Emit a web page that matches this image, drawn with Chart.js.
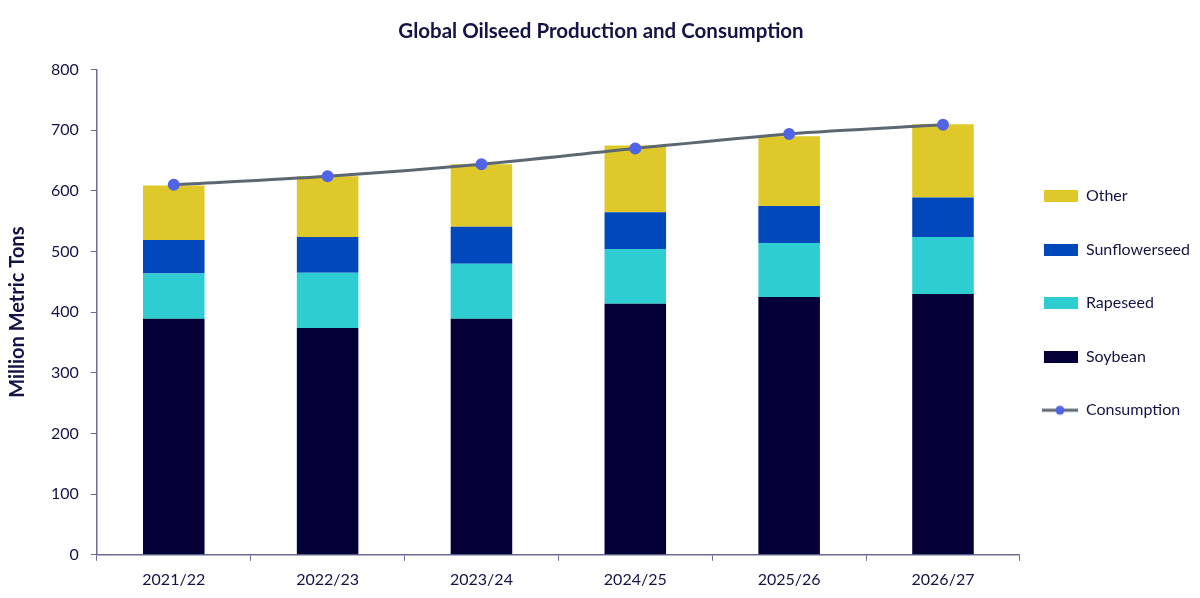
<!DOCTYPE html>
<html>
<head>
<meta charset="utf-8">
<script src="https://cdn.jsdelivr.net/npm/chart.js@4"></script>
<style>
  html, body { margin: 0; padding: 0; background: #fff; }
  #wrap { width: 1200px; height: 598px; position: relative; }
</style>
</head>
<body>
<div id="wrap"><canvas id="chart"></canvas></div>
<script>
// ── Global oilseed production (stacked) vs consumption (line) ────────────
const years       = ['2021/22', '2022/23', '2023/24', '2024/25', '2025/26', '2026/27'];
const soybean     = [389, 374, 389, 414, 425, 430];
const rapeseed    = [75, 91, 91, 90, 89, 94];
const sunflower   = [55, 59, 61, 61, 61, 65];
const other       = [90, 100, 103, 110, 115, 121];
const consumption = [610, 624, 644, 670, 694, 709];
const legendOrder = ['Other', 'Sunflowerseed', 'Rapeseed', 'Soybean', 'Consumption'];

const NAVY = '#141345';
const AXIS = '#6e6a96';
const FONT = 'Lato, "Open Sans", sans-serif';
const LINE_COL = '#5d6771';
const DOT_COL = '#5264e6';

// Legend rows are taller than the font (array text -> lineHeight drives row height).
// Swatches go into the right part of a wider canvas so the text sits close to them.
const ROW_H = 35.5, ICON_W = 40;
function boxIcon(color) {
  const c = document.createElement('canvas');
  c.width = ICON_W; c.height = 12;
  const g = c.getContext('2d');
  g.fillStyle = color; g.fillRect(ICON_W - 34, 0, 34, 12);
  return c;
}
function lineIcon() {
  const c = document.createElement('canvas');
  c.width = ICON_W; c.height = 12;
  const g = c.getContext('2d');
  g.strokeStyle = LINE_COL; g.lineWidth = 3;
  g.beginPath(); g.moveTo(ICON_W - 36, 6); g.lineTo(ICON_W, 6); g.stroke();
  g.fillStyle = DOT_COL;
  g.beginPath(); g.arc(ICON_W - 18, 6, 4.5, 0, Math.PI * 2); g.fill();
  return c;
}

const icons = {};
const bar = (label, data, color) => {
  icons[label] = boxIcon(color);
  return {
    type: 'bar', label, data,
    backgroundColor: color, borderWidth: 0,
    barPercentage: 0.4, categoryPercentage: 1,
    stack: 'prod', order: 1,
  };
};
icons['Consumption'] = lineIcon();

new Chart(document.getElementById('chart'), {
  data: {
    labels: years,
    datasets: [
      bar('Soybean', soybean, '#040037'),
      bar('Rapeseed', rapeseed, '#2ecdd2'),
      bar('Sunflowerseed', sunflower, '#0048bb'),
      bar('Other', other, '#dfc92a'),
      {
        type: 'line', label: 'Consumption', data: consumption,
        borderColor: LINE_COL, borderWidth: 3, tension: 0.3,
        pointStyle: 'circle', pointRadius: 4.5,
        pointBackgroundColor: DOT_COL, pointBorderColor: DOT_COL,
        order: 0,
      },
    ]
  },
  options: {
    responsive: true, maintainAspectRatio: false, animation: false,
    layout: { padding: { top: 12, right: 0, left: 2, bottom: 0 } },
    plugins: {
      title: {
        display: true, text: 'Global Oilseed Production and Consumption',
        color: NAVY, font: { family: FONT, size: 20.5, weight: 'bold' },
        padding: { top: 7, bottom: 26 },
      },
      legend: {
        position: 'right',
        // empty title only nudges the centred item column down a little
        title: { display: true, text: '', font: { size: 16, lineHeight: 1 }, padding: 0 },
        labels: {
          usePointStyle: true, pointStyleWidth: ICON_W, boxHeight: 12,
          color: NAVY, font: { family: FONT, size: 16, lineHeight: ROW_H / 16 }, padding: 18,
          sort: (a, b) => legendOrder.indexOf(a.text[0]) - legendOrder.indexOf(b.text[0]),
          generateLabels: chart => chart.data.datasets.map((ds, i) => ({
            text: [ds.label], datasetIndex: i, pointStyle: icons[ds.label],
            fontColor: NAVY, lineWidth: 0, hidden: false,
          })),
        },
      },
      tooltip: { enabled: false },
    },
    scales: {
      x: {
        stacked: true,
        grid: { display: true, drawOnChartArea: false, drawTicks: true, tickLength: 6, color: AXIS, offset: true },
        border: { color: AXIS, width: 1.5 },
        ticks: { color: NAVY, font: { family: FONT, size: 16 }, padding: 9 },
      },
      y: {
        stacked: true, min: 0, max: 800,
        grid: { display: true, drawOnChartArea: false, drawTicks: true, tickLength: 6, color: AXIS },
        border: { color: AXIS, width: 1.5 },
        ticks: { stepSize: 100, color: NAVY, font: { family: FONT, size: 16 }, padding: 12 },
        title: {
          display: true, text: 'Million Metric Tons',
          color: NAVY, font: { family: FONT, size: 20, weight: 'bold' }, padding: { bottom: 9 },
        },
      },
    },
  },
});
</script>
</body>
</html>
